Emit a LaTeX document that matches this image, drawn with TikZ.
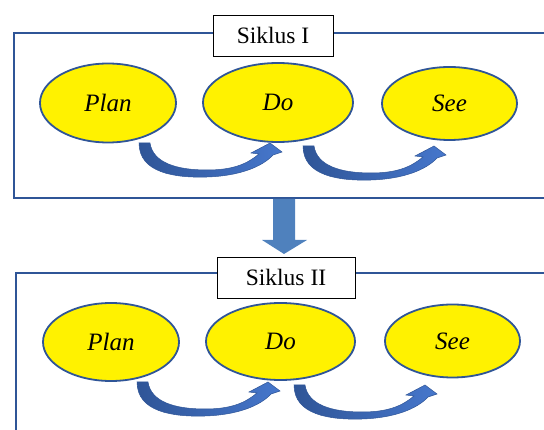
\documentclass[tikz,border=0pt]{standalone}
\usepackage{fontspec}
\setmainfont{Liberation Serif}
\usetikzlibrary{shapes.geometric,calc}
\definecolor{frameblue}{HTML}{2F5597}
\definecolor{arrowlight}{HTML}{4677CC}
\definecolor{blockblue}{HTML}{4F81BD}
\tikzset{
  frameline/.style={draw=frameblue,line width=2pt},
  cyc/.style={ellipse,draw=frameblue,line width=1.8pt,fill=yellow,inner sep=0pt,
    font=\fontsize{25}{30}\selectfont\itshape},
  labbox/.style={draw=black,line width=0.9pt,fill=white,inner sep=0pt,
    font=\fontsize{23.5}{28}\selectfont},
  curvarrow/.pic={
    \path[draw=frameblue,line width=0.5pt,left color=frameblue,right color=arrowlight]
      (0,0) .. controls (0,30) and (36,35) .. (68,34)
      .. controls (100,33) and (123,24) .. (134,12)
      -- (143,9) -- (131,0) -- (112,10) -- (120,11)
      .. controls (108,21) and (94,27) .. (68,27)
      .. controls (38,27) and (14,20) .. (11,0) -- cycle;
  }
}
\begin{document}
\begin{tikzpicture}[x=1pt,y=-1pt]
\useasboundingbox (0,0) rectangle (544,430);
\clip (0,0) rectangle (544,430);
% frames
\draw[frameline] (560,33) -- (13.5,33) -- (13.5,198) -- (560,198);
\draw[frameline] (560,273) -- (15.7,273) -- (15.7,440);
% labels
\node[labbox,minimum width=120pt,minimum height=41pt] (lab1) at (273,35.5) {Siklus I};
\node[labbox,minimum width=138pt,minimum height=41pt] (lab2) at (286,277.5) {Siklus II};
% row 1
\node[cyc,minimum width=136pt,minimum height=79pt] (p1) at (108,103) {Plan};
\node[cyc,minimum width=150pt,minimum height=79pt] (d1) at (278,102.5) {Do};
\node[cyc,minimum width=135pt,minimum height=73pt] (s1) at (449.5,103.5) {See};
% row 2
\node[cyc,minimum width=136pt,minimum height=78pt] (p2) at (111,342) {Plan};
\node[cyc,minimum width=149pt,minimum height=77pt] (d2) at (280.5,341.5) {Do};
\node[cyc,minimum width=135pt,minimum height=73pt] (s2) at (452.5,341) {See};
% curved arrows
\pic at (139,143) {curvarrow};
\pic at (303,146) {curvarrow};
\pic at (137,382) {curvarrow};
\pic at (294,385) {curvarrow};
% block arrow between cycles
\fill[blockblue] (273,199) -- (295,199) -- (295,240) -- (307,240) -- (284,254)
  -- (262,240) -- (273,240) -- cycle;
\end{tikzpicture}
\end{document}
